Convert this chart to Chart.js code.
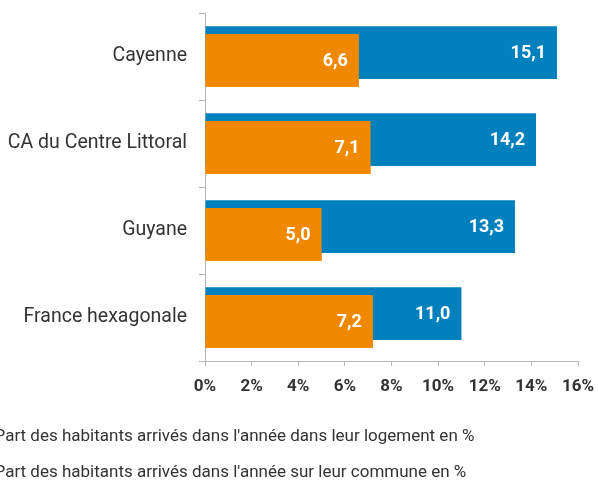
<!DOCTYPE html>
<html lang="fr">
<head>
<meta charset="utf-8">
<script src="https://cdn.jsdelivr.net/npm/chart.js@4.4.1/dist/chart.umd.min.js"></script>
<style>
  html, body { margin: 0; padding: 0; background: #fff; overflow: hidden; }
  /* le graphique dépasse à gauche : les pastilles de légende sont hors cadre */
  #cadre { position: absolute; left: -54px; top: 0; width: 652px; height: 491px; }
</style>
</head>
<body>
<div id="cadre"><canvas id="grafico"></canvas></div>
<script>
var territoires = ['Cayenne', 'CA du Centre Littoral', 'Guyane', 'France hexagonale'];
var partCommune = [15.1, 14.2, 13.3, 11.0];
var partLogement = [6.6, 7.1, 5.0, 7.2];
var libelleCommune = "Part des habitants arrivés dans l'année sur leur commune en %";
var libelleLogement = "Part des habitants arrivés dans l'année dans leur logement en %";
var axeMin = 0;
var axeMax = 16;
var axePas = 2;

var bleu = '#0081bd';
var orange = '#f08900';
var gris = '#b5b5b5';
var texte = '#333333';

function formatFr(v){
    return v.toFixed(1).replace('.', ',');
}

// l'orange doit passer devant le bleu, puis on écrit les valeurs
var etiquettes = {
    id: 'etiquettes',
    afterDatasetsDraw: function(chart){
        var ctx = chart.ctx;
        ctx.save();
        ctx.beginPath();
        ctx.rect(chart.chartArea.left, chart.chartArea.top, chart.chartArea.width, chart.chartArea.height);
        ctx.clip();
        chart.getDatasetMeta(1).controller.draw();
        ctx.restore();

        ctx.save();
        ctx.font = 'bold 18px Roboto';
        ctx.fillStyle = '#ffffff';
        ctx.textAlign = 'right';
        ctx.textBaseline = 'middle';
        chart.data.datasets.forEach(function(ds, i){
            chart.getDatasetMeta(i).data.forEach(function(barre, k){
                ctx.fillText(formatFr(ds.data[k]), barre.x - 11, barre.y + 1);
            });
        });
        ctx.restore();
    }
};

var $canvas = document.getElementById('grafico').getContext('2d');
var grafico = new Chart($canvas, {
    type: 'bar',
    data: {
        labels: territoires,
        datasets: [
            {
                label: libelleCommune,
                data: partCommune,
                backgroundColor: bleu,
                borderWidth: 0,
                categoryPercentage: 0.183,
                barPercentage: 6.625
            },
            {
                label: libelleLogement,
                data: partLogement,
                backgroundColor: orange,
                borderWidth: 0,
                categoryPercentage: 0.183,
                barPercentage: 6.625
            }
        ]
    },
    options: {
        indexAxis: 'y',
        responsive: true,
        maintainAspectRatio: false,
        animation: false,
        layout: { padding: { top: 13, right: 20, bottom: 0, left: 0 } },
        scales: {
            x: {
                min: axeMin,
                max: axeMax,
                afterFit: function(s){
                    s.height = 48;
                    s.paddingLeft = 0;
                    s.paddingRight = 0;
                },
                ticks: {
                    stepSize: axePas,
                    padding: 11,
                    color: texte,
                    font: { family: 'Roboto', size: 17, weight: 'bold' },
                    callback: function(v){ return v + '%'; }
                },
                grid: { drawOnChartArea: false, color: gris, tickLength: 5 },
                border: { color: gris, width: 1 }
            },
            y: {
                afterFit: function(s){
                    s.width = 259;
                    s.paddingTop = 0;
                    s.paddingBottom = 0;
                },
                ticks: {
                    padding: 12,
                    color: texte,
                    font: { family: 'Roboto', size: 19.5 }
                },
                grid: { drawOnChartArea: false, color: gris, tickLength: 6 },
                border: { color: gris, width: 1 }
            }
        },
        plugins: {
            tooltip: { enabled: false },
            legend: {
                position: 'bottom',
                align: 'start',
                reverse: true,
                labels: {
                    boxWidth: 21,
                    padding: 19,
                    color: texte,
                    font: { family: 'Roboto', size: 17 }
                }
            }
        }
    },
    plugins: [etiquettes]
});
</script>
</body>
</html>
